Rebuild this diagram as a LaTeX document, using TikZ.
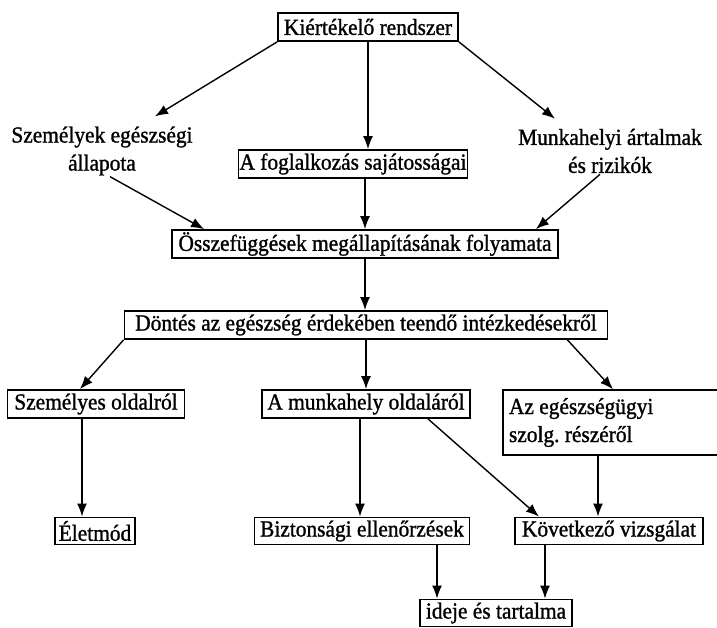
\documentclass[tikz,border=0pt]{standalone}
\usepackage{fontspec}
\setmainfont{Liberation Serif}[FakeStretch=0.93, FakeBold=1.2]
\usetikzlibrary{arrows.meta,calc}
\begin{document}
\begin{tikzpicture}[x=1pt,y=-1pt,
  every node/.style={font=\fontsize{23}{28}\selectfont\frenchspacing},
  box/.style={draw, line width=1.8pt, inner sep=1pt, minimum height=28pt},
  label/.style={align=center, inner sep=1pt},
  arr/.style={line width=1.4pt, -{Latex[length=13pt,width=10pt]}}]
\useasboundingbox (0,0) rectangle (717,627);
\clip (0,0) rectangle (717,627);
\node[box, minimum width=180pt] (ker) at (368,27) {Kiértékelő rendszer};
\node[label] (szem) at (102,151) {Személyek egészségi\\állapota};
\node[box, minimum width=210pt] (fogl) at (353,164) {A foglalkozás sajátosságai};
\node[label] (munk) at (610,151) {Munkahelyi ártalmak\\és rizikók};
\node[box, minimum width=386pt] (ossz) at (365,244) {Összefüggések megállapításának folyamata};
\node[box, minimum width=483pt] (dont) at (366,325) {Döntés az egészség érdekében teendő intézkedésekről};
\node[box, minimum width=177pt] (szo) at (96,404) {Személyes oldalról};
\node[box, minimum width=208pt] (mho) at (366,404) {A munkahely oldaláról};
\node[box, align=flush left, text width=208pt, inner sep=6pt, minimum height=65pt, line width=1.4pt] (eu) at (613,422.5) {Az egészségügyi\\szolg. részéről};
\node[box, minimum width=80pt, minimum height=27pt] (elet) at (95,531) {Életmód};
\node[box, minimum width=215pt, minimum height=27pt] (bizt) at (362,531) {Biztonsági ellenőrzések};
\node[box, minimum width=188pt, minimum height=27pt] (kov) at (609,531) {Következő vizsgálat};
\node[box, minimum width=152pt, minimum height=27pt] (idej) at (496,613) {ideje és tartalma};

\draw[arr] (ker.south west) -- ($(szem.north)+(53,-9)$);
\draw[arr] (ker.south) -- (ker.south |- fogl.north);
\draw[arr] (ker.south east) -- ($(munk.north)+(-55,-9)$);
\draw[arr] ($(szem.south)+(8,0)$) -- ($(ossz.north west)+(33,0)$);
\draw[arr] (ossz.north |- fogl.south) -- (ossz.north);
\draw[arr] ($(munk.south)+(-10,0)$) -- ($(ossz.north east)+(-23,0)$);
\draw[arr] (ossz.south) -- (ossz.south |- dont.north);
\draw[arr] (dont.south west) -- ($(szo.north)+(-16,0)$);
\draw[arr] (dont.south) -- (dont.south |- mho.north);
\draw[arr] ($(dont.south east)+(-41,0)$) -- (eu.north);
\draw[arr] ($(szo.south)+(-14,0)$) -- ($(elet.north)+(-13,0)$);
\draw[arr] ($(mho.south)+(-6,0)$) -- ($(bizt.north)+(-2,0)$);
\draw[arr] ($(mho.south)+(62,0)$) -- ($(kov.north)+(-70,0)$);
\draw[arr] ($(eu.south)+(-15,0)$) -- ($(kov.north)+(-11,0)$);
\draw[arr] ($(bizt.south)+(75,0)$) -- ($(idej.north)+(-59,0)$);
\draw[arr] ($(kov.south)+(-64,0)$) -- ($(idej.north)+(49,0)$);
\end{tikzpicture}
\end{document}
